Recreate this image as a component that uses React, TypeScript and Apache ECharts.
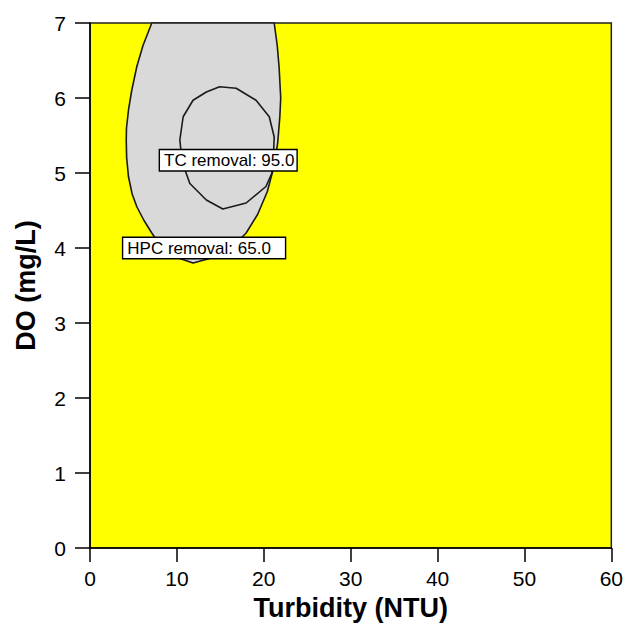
import React, { useEffect, useRef } from "react";
import * as echarts from "echarts";

// Axis settings
const xTicks = [0, 10, 20, 30, 40, 50, 60];
const yTicks = [0, 1, 2, 3, 4, 5, 6, 7];

// HPC removal 65.0 contour (outer region, Turbidity NTU, DO mg/L)
const hpcContour: [number, number][] = [
  [7.11, 7.0], [6.1, 6.7], [5.39, 6.42], [4.8, 6.1], [4.43, 5.84], [4.2, 5.6],
  [4.17, 5.44], [4.22, 5.2], [4.43, 4.95], [4.85, 4.72], [5.39, 4.55],
  [6.2, 4.37], [7.11, 4.2], [8.0, 4.05], [8.97, 3.93], [10.34, 3.86], [11.86, 3.8],
  [13.77, 3.86], [14.69, 3.91], [16.06, 4.0], [17.1, 4.1], [17.97, 4.2], [19.3, 4.45],
  [20.4, 4.75], [21.2, 5.1], [21.6, 5.4], [21.85, 5.75], [21.95, 6.0], [21.77, 6.4],
  [21.55, 6.7], [21.2, 7.0],
];

// TC removal 95.0 contour (inner)
const tcContour: [number, number][] = [
  [14.91, 6.15], [16.82, 6.13], [19.11, 5.97], [20.63, 5.75], [21.2, 5.48],
  [21.1, 5.2], [20.94, 5.0], [20.25, 4.82], [17.97, 4.6], [15.29, 4.52],
  [13.39, 4.64], [11.49, 4.86], [10.6, 5.15], [10.34, 5.44], [10.72, 5.75],
  [11.86, 5.97], [13.39, 6.08],
];

// Contour labels: [x, y, text]
const contourLabels: [number, number, string][] = [
  [8.06, 5.17, "TC removal: 95.0"],
  [3.83, 4.0, "HPC removal: 65.0"],
];

const FONT = "'Liberation Sans', Arial, Helvetica, sans-serif";

export default function App() {
  const ref = useRef<HTMLDivElement>(null);
  useEffect(() => {
    if (!ref.current) return;
    const chart = echarts.init(ref.current, null, { renderer: "svg" });
    const polys = [hpcContour, tcContour];
    const option: any = {
      animation: false,
      grid: {
        left: 90,
        right: 12,
        top: 23,
        bottom: 78,
        show: true,
        backgroundColor: "#ffff00",
        borderColor: "#222",
        borderWidth: 1.5,
      },
      xAxis: {
        type: "value",
        min: xTicks[0],
        max: xTicks[xTicks.length - 1],
        interval: 10,
        name: "Turbidity (NTU)",
        nameLocation: "middle",
        nameGap: 46,
        nameTextStyle: { fontFamily: FONT, fontSize: 27, fontWeight: "bold", color: "#000" },
        axisLine: { show: true, onZero: false, lineStyle: { color: "#000", width: 1.5 } },
        axisTick: { show: true, inside: false, length: 14, lineStyle: { color: "#000", width: 1.5 } },
        axisLabel: { fontFamily: FONT, fontSize: 21, color: "#000", margin: 20 },
        splitLine: { show: false },
      },
      yAxis: {
        type: "value",
        min: yTicks[0],
        max: yTicks[yTicks.length - 1],
        interval: 1,
        name: "DO (mg/L)",
        nameLocation: "middle",
        nameGap: 51,
        nameTextStyle: { fontFamily: FONT, fontSize: 27, fontWeight: "bold", color: "#000" },
        axisLine: { show: true, onZero: false, lineStyle: { color: "#000", width: 1.5 } },
        axisTick: { show: true, inside: false, length: 15, lineStyle: { color: "#000", width: 1.5 } },
        axisLabel: { fontFamily: FONT, fontSize: 21, color: "#000", margin: 24 },
        splitLine: { show: false },
      },
      series: [
        {
          type: "custom",
          data: [[0], [1]],
          silent: true,
          renderItem: (params: any, api: any) => {
            const idx = api.value(0);
            const pts = polys[idx].map((p) => api.coord(p));
            return {
              type: "polygon",
              shape: { points: pts },
              style: {
                fill: idx === 0 ? "#d9d9d9" : "none",
                stroke: "#1a1a1a",
                lineWidth: 1.6,
                lineJoin: "round",
              },
            };
          },
        },
        {
          type: "custom",
          data: contourLabels.map((l) => [l[0], l[1]]),
          silent: true,
          renderItem: (params: any, api: any) => {
            const pt = api.coord([api.value(0), api.value(1)]);
            const text = contourLabels[params.dataIndex][2];
            return {
              type: "text",
              x: pt[0],
              y: pt[1],
              style: {
                text,
                fontFamily: FONT,
                fontSize: 17,
                fill: "#000",
                align: "left",
                verticalAlign: "middle",
                backgroundColor: "#fff",
                borderColor: "#000",
                borderWidth: 1.4,
                padding: params.dataIndex === 0 ? [2, 2, 1, 4] : [2, 14, 1, 4],
              },
            };
          },
        },
      ],
    };
    chart.setOption(option);
    return () => chart.dispose();
  }, []);
  return (
    <div
      ref={ref}
      style={{ position: "fixed", left: 0, top: 0, width: 626, height: 626, background: "#fff" }}
    />
  );
}
